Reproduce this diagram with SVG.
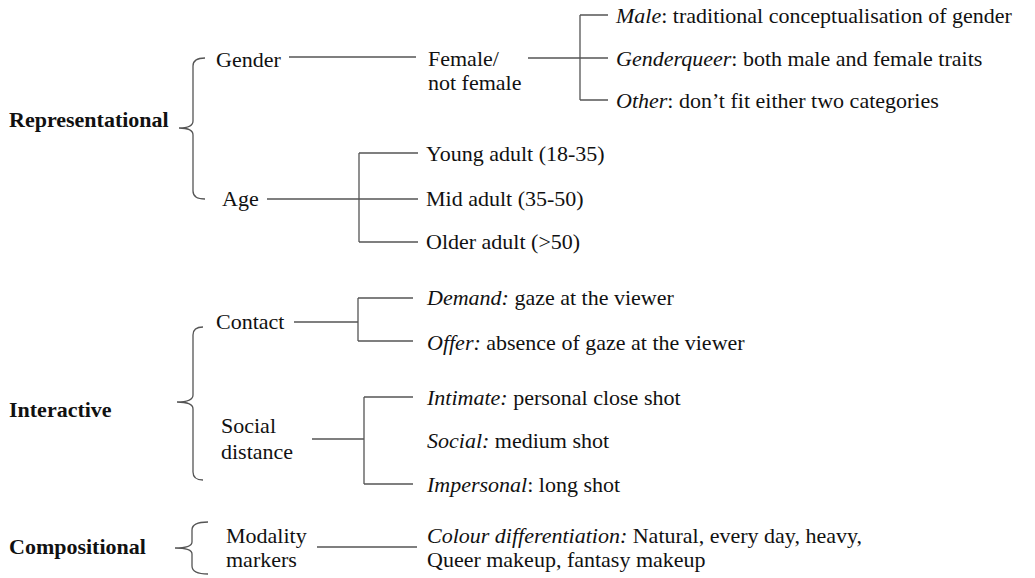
<svg xmlns="http://www.w3.org/2000/svg" width="1035" height="578" viewBox="0 0 1035 578">
<style>
text{font-family:"Liberation Serif","DejaVu Serif",serif;font-size:22px;fill:#111}
.b{font-weight:bold}
.i{font-style:italic}
.ln{stroke:#555;stroke-width:1.3;fill:none}
</style>
<rect width="1035" height="578" fill="#fff"/>
<g id="connectors" class="ln">
<path d="M205,58 Q193,58 193,66 V121 Q193,128 179,128 M179,128 Q193,128 193,135 V191 Q193,199 205,199"/>
<path d="M203,327 Q193,327 193,335 V395 Q193,402 177,402 M177,402 Q193,402 193,409 V472 Q193,480 203,480"/>
<path d="M208,522 Q192,522 192,530 V542 Q192,548 175,548 M175,548 Q192,548 192,554 V566 Q192,574 208,574"/>
<path d="M289,57 H416"/>
<path d="M528,58 H580 M580,15 V100 M580,15 H608 M580,58 H608 M580,100 H608"/>
<path d="M267,199 H418 M359,153 V242 M359,153 H418 M359,242 H418"/>
<path d="M294,322 H358 M358,298 V341 M358,298 H413 M358,341 H413"/>
<path d="M312,439 H364 M364,397 V484 M364,397 H413 M364,484 H413"/>
<path d="M317,547 H417"/>
</g>
<g id="representational"><text class="b" x="9" y="127" font-family="Liberation Serif, serif">Representational</text></g>
<g id="gender"><text x="216" y="67">Gender</text></g>
<g id="female"><text x="428" y="66">Female/</text><text x="428" y="90">not female</text></g>
<g id="male"><text x="616" y="23"><tspan class="i">Male</tspan>: traditional conceptualisation of gender</text></g>
<g id="genderqueer"><text x="616" y="66"><tspan class="i">Genderqueer</tspan>: both male and female traits</text></g>
<g id="other"><text x="616" y="108"><tspan class="i">Other</tspan>: don’t fit either two categories</text></g>
<g id="age"><text x="222" y="206">Age</text></g>
<g id="young"><text x="426" y="161">Young adult (18-35)</text></g>
<g id="mid"><text x="426" y="206">Mid adult (35-50)</text></g>
<g id="older"><text x="426" y="249">Older adult (&gt;50)</text></g>
<g id="interactive"><text class="b" x="9" y="417">Interactive</text></g>
<g id="contact"><text x="216" y="329">Contact</text></g>
<g id="demand"><text x="427" y="305"><tspan class="i">Demand:</tspan> gaze at the viewer</text></g>
<g id="offer"><text x="427" y="350"><tspan class="i">Offer:</tspan> absence of gaze at the viewer</text></g>
<g id="social-distance"><text x="221" y="433">Social</text><text x="221" y="459">distance</text></g>
<g id="intimate"><text x="427" y="405"><tspan class="i">Intimate:</tspan> personal close shot</text></g>
<g id="social"><text x="427" y="448"><tspan class="i">Social:</tspan> medium shot</text></g>
<g id="impersonal"><text x="427" y="492"><tspan class="i">Impersonal</tspan>: long shot</text></g>
<g id="compositional"><text class="b" x="9" y="554">Compositional</text></g>
<g id="modality"><text x="226" y="543">Modality</text><text x="226" y="567">markers</text></g>
<g id="colour"><text x="427" y="543"><tspan class="i">Colour differentiation:</tspan> Natural, every day, heavy,</text><text x="427" y="567">Queer makeup, fantasy makeup</text></g>
</svg>
